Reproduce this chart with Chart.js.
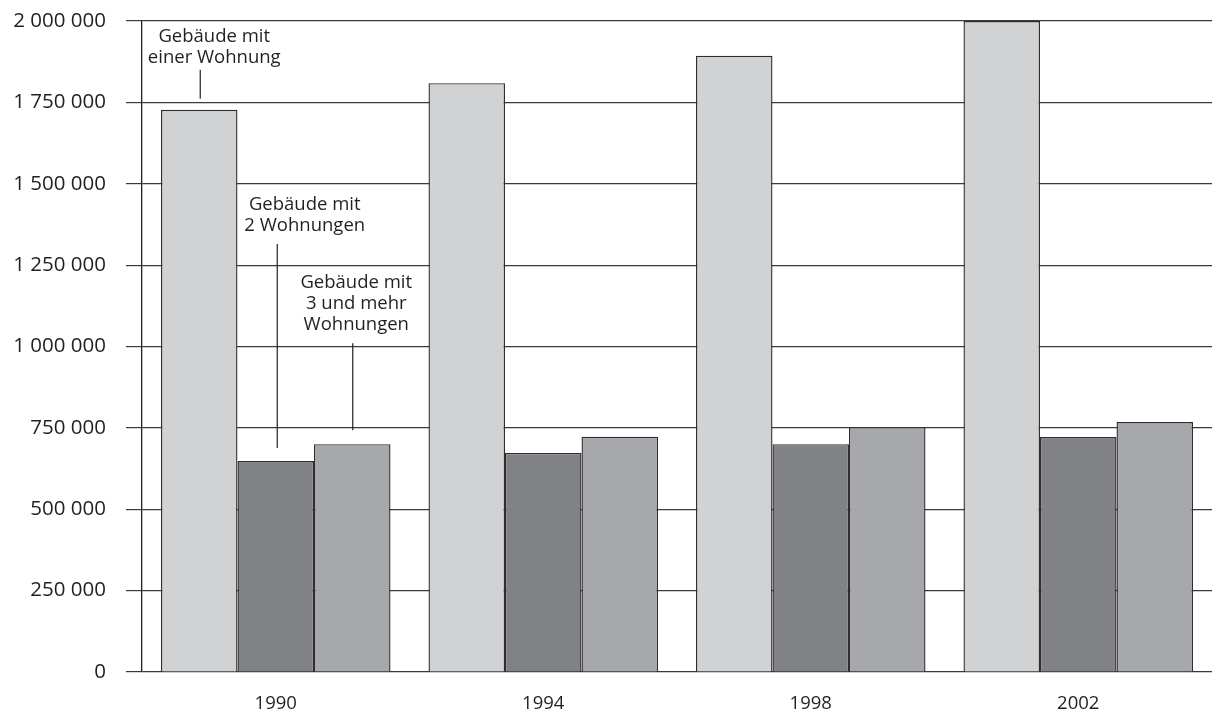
<!DOCTYPE html>
<html>
<head>
<meta charset="utf-8">
<script src="https://cdn.jsdelivr.net/npm/chart.js@4/dist/chart.umd.min.js"></script>
<style>
  html, body { margin: 0; padding: 0; background: #fff; }
  #wrap { width: 1212px; height: 716px; }
</style>
</head>
<body>
<div id="wrap"><canvas id="chart"></canvas></div>
<script>
// years on the x axis
const years = ["1990", "1994", "1998", "2002"];

// building counts per year
const einWohnung = [1727000, 1809000, 1893000, 2000000];
const zweiWohnungen = [648000, 673000, 700000, 722000];
const dreiUndMehr = [700000, 723000, 752000, 768000];

// y tick labels
const yTicks = [0, 250000, 500000, 750000, 1000000, 1250000, 1500000, 1750000, 2000000];

// callout texts for each series
const callouts = [
  ["Gebäude mit", "einer Wohnung"],
  ["Gebäude mit", "2 Wohnungen"],
  ["Gebäude mit", "3 und mehr", "Wohnungen"]
];

const ink = "#231f20";
const FONT = "'Open Sans', 'Noto Sans', sans-serif";

function fmt(v) {
  // thousands split by a space, like the printed axis
  return String(v).replace(/\B(?=(\d{3})+(?!\d))/g, " ");
}

// draws the three labels with their leader lines above the 1990 bars
const calloutPlugin = {
  id: "callouts",
  afterDatasetsDraw(chart) {
    const ctx = chart.ctx;
    const b0 = chart.getDatasetMeta(0).data[0];
    const b1 = chart.getDatasetMeta(1).data[0];
    const b2 = chart.getDatasetMeta(2).data[0];
    ctx.save();
    ctx.strokeStyle = ink;
    ctx.lineWidth = 1.2;
    ctx.fillStyle = ink;
    ctx.font = "18.5px " + FONT;
    ctx.textAlign = "center";
    ctx.textBaseline = "middle";

    function leader(x, y1, y2) {
      ctx.beginPath();
      ctx.moveTo(x, y1);
      ctx.lineTo(x, y2);
      ctx.stroke();
    }
    function lines(x, yFirst, arr) {
      arr.forEach((t, i) => ctx.fillText(t, x, yFirst + i * 21));
    }

    leader(b0.x + 1, b0.y - 40, b0.y - 11);
    lines(b0.x + 15, b0.y - 73, callouts[0]);

    leader(b1.x + 1.5, b1.y - 217, b1.y - 13);
    lines(b1.x + 29, b1.y - 256, callouts[1]);

    leader(b2.x + 0.5, b2.y - 101, b2.y - 14);
    lines(b2.x + 4, b2.y - 161, callouts[2]);
    ctx.restore();
  }
};

const border = "#2e2e2e";

new Chart("chart", {
  type: "bar",
  data: {
    labels: years,
    datasets: [
      { label: "Gebäude mit einer Wohnung", data: einWohnung, backgroundColor: "#d1d2d4", borderColor: border, borderWidth: 1.4 },
      { label: "Gebäude mit 2 Wohnungen", data: zweiWohnungen, backgroundColor: "#818285", borderColor: border, borderWidth: 1.4 },
      { label: "Gebäude mit 3 und mehr Wohnungen", data: dreiUndMehr, backgroundColor: "#a7a8ab", borderColor: border, borderWidth: 1.4 }
    ]
  },
  options: {
    responsive: true,
    maintainAspectRatio: false,
    animation: false,
    datasets: {
      bar: { categoryPercentage: 0.858, barPercentage: 1.0 }
    },
    layout: { padding: { top: 21, right: 0, bottom: 0, left: 0 } },
    plugins: {
      legend: { display: false },
      tooltip: { enabled: false }
    },
    scales: {
      x: {
        grid: { display: false, drawTicks: false },
        border: { display: false },
        ticks: { color: ink, font: { family: FONT, size: 18.5 }, padding: 21 },
        afterFit(scale) { scale.height = 44; }
      },
      y: {
        min: 0,
        max: 2000000,
        afterBuildTicks(scale) { scale.ticks = yTicks.map(v => ({ value: v })); },
        grid: { color: "#3a3a3a", lineWidth: 1.2, tickLength: 16, drawTicks: true },
        border: { display: true, color: ink, width: 1.3 },
        ticks: {
          color: ink,
          font: { family: FONT, size: 20.5 },
          padding: 20,
          callback: v => fmt(v)
        },
        afterFit(scale) {
          scale.width = 142;
          scale.paddingTop = 0;
          scale.paddingBottom = 0;
        }
      }
    }
  },
  plugins: [calloutPlugin]
});
</script>
</body>
</html>
